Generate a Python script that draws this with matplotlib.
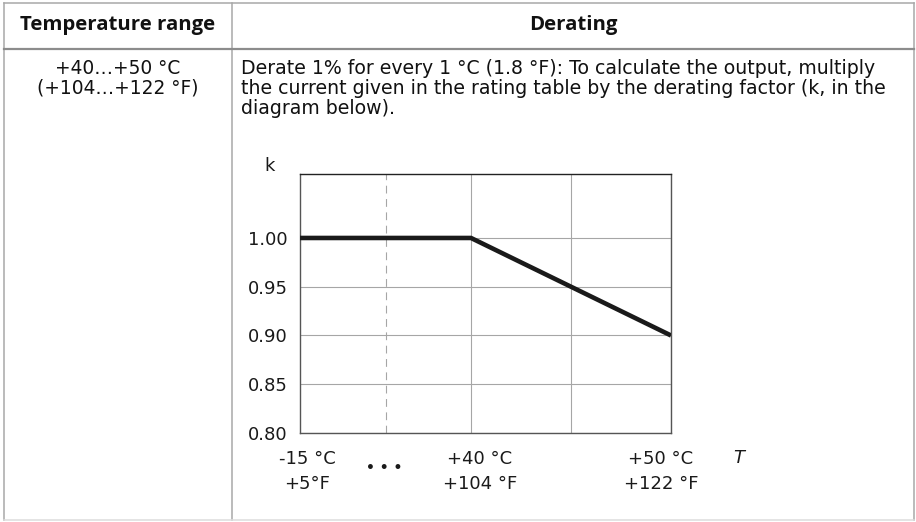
import matplotlib
matplotlib.use("Agg")
import matplotlib.pyplot as plt
from matplotlib.lines import Line2D

# Derating curve: temperature (deg C) vs derating factor k
temps_c = [-15, 40, 50]
k_values = [1.00, 1.00, 0.90]
k_ticks = [0.80, 0.85, 0.90, 0.95, 1.00]
x_tick_labels = ["-15 °C\n+5°F", "+40 °C\n+104 °F", "+50 °C\n+122 °F"]
grid_temps = [40, 45, 50]

header_left = "Temperature range"
header_right = "Derating"
range_lines = ["+40…+50 °C", "(+104…+122 °F)"]
derate_lines = [
    "Derate 1% for every 1 °C (1.8 °F): To calculate the output, multiply",
    "the current given in the rating table by the derating factor (k, in the",
    "diagram below).",
]

BREAK_WIDTH = 8.55  # schematic width of the -15...+40 section


def to_pos(t):
    # the axis is broken between -15 and +40, so squeeze that part
    if t >= 40:
        return t - 40
    return -BREAK_WIDTH * (40 - t) / 55.0


W, H = 916, 522
fig = plt.figure(figsize=(W / 100, H / 100), dpi=100)

# background axes in pixel coordinates for the table
bg = fig.add_axes([0, 0, 1, 1])
bg.set_xlim(0, W)
bg.set_ylim(H, 0)
bg.axis("off")

line_col = "#a8a8a8"
head_font = ["Open Sans", "DejaVu Sans"]
body_font = ["DejaVu Sans"]
for x in [4, 232, 914]:
    bg.add_line(Line2D([x, x], [3, 520], color=line_col, lw=1.1))
bg.add_line(Line2D([4, 914], [3, 3], color=line_col, lw=1.1))
bg.add_line(Line2D([4, 914], [49, 49], color="#8c8c8c", lw=1.6))
bg.add_line(Line2D([4, 914], [520, 520], color="#dddddd", lw=1.1))

bg.text(118, 25, header_left, ha="center", va="center", fontsize=14.7,
        fontweight="bold", family=head_font, color="#111111")
bg.text(573, 25, header_right, ha="center", va="center", fontsize=14.7,
        fontweight="bold", family=head_font, color="#111111")
for i, s in enumerate(range_lines):
    bg.text(118, 68 + 20.5 * i, s, ha="center", va="center", fontsize=13.4,
            family=body_font, color="#111111")
for i, s in enumerate(derate_lines):
    bg.text(241, 68 + 20.5 * i, s, ha="left", va="center", fontsize=13.6,
            family=body_font, color="#111111")

# the diagram itself
ax = fig.add_axes([300 / W, 1 - 433 / H, 371 / W, 259 / H])
xs = [to_pos(t) for t in temps_c]
ax.set_xlim(to_pos(temps_c[0]), to_pos(temps_c[-1]))
ax.set_ylim(0.80, 1.0656)

grid_col = "#a6a6a6"
for t in grid_temps:
    ax.axvline(to_pos(t), color=grid_col, lw=0.8, zorder=1)
ax.axvline((to_pos(-15) + to_pos(40)) / 2, color=grid_col, lw=0.8,
           dashes=(7, 5), zorder=1)
for k in k_ticks:
    ax.axhline(k, color=grid_col, lw=0.8, zorder=1)

ax.plot(xs, k_values, color="#1a1a1a", lw=3.3, solid_capstyle="butt",
        solid_joinstyle="miter", zorder=3)

for sp in ax.spines.values():
    sp.set_color("#555555")
    sp.set_linewidth(1.0)
ax.spines["top"].set_color("#222222")

ax.set_xticks([])
ax.set_yticks(k_ticks)
ax.set_yticklabels([f"{k:.2f}" for k in k_ticks])
ax.tick_params(axis="y", length=0, pad=9, labelsize=13, labelcolor="#1a1a1a")

ax.text(-0.083, 1.03, "k", transform=ax.transAxes, fontsize=13,
        ha="center", va="center", color="#1a1a1a")

label_offsets = [7, 9, -10]
for t, lab, dx in zip(temps_c, x_tick_labels, label_offsets):
    ax.annotate(lab, xy=(to_pos(t), 0.80), xycoords="data",
                xytext=(dx * 0.72, -12), textcoords="offset points",
                ha="center", va="top", fontsize=13, linespacing=1.55,
                color="#1a1a1a", annotation_clip=False)

ax.annotate("• • •", xy=((to_pos(-15) + to_pos(40)) / 2, 0.80),
            xytext=(-1, -25), textcoords="offset points", ha="center",
            va="center", fontsize=10, fontweight="bold", color="#1a1a1a",
            annotation_clip=False)
ax.annotate("T", xy=(1.0, 0.0), xycoords="axes fraction",
            xytext=(68 * 0.72, -18), textcoords="offset points",
            ha="center", va="center", fontsize=13, style="italic",
            color="#1a1a1a", annotation_clip=False)

fig.savefig("out.png", dpi=100)
